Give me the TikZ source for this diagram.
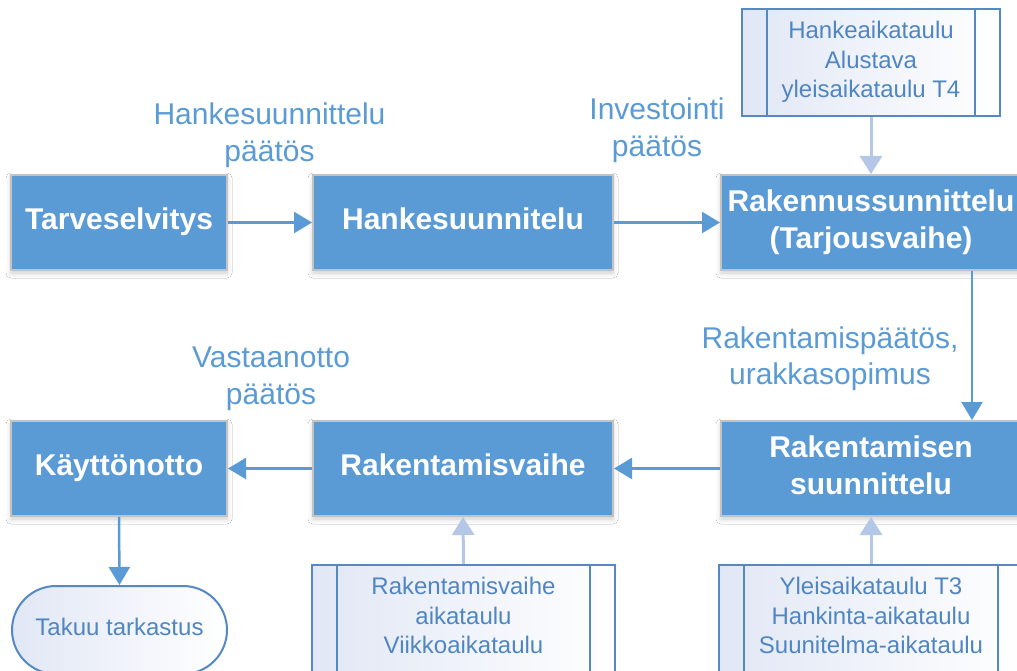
\documentclass[tikz,border=0pt]{standalone}
\usepackage{fontspec}
\setmainfont{Liberation Sans}
\usetikzlibrary{arrows.meta,shadows.blur}

\definecolor{procfill}{HTML}{5B9BD5}
\definecolor{procedge}{HTML}{C3C3C3}
\definecolor{labelblue}{HTML}{5B9BD5}
\definecolor{docedge}{HTML}{5589C4}
\definecolor{doctext}{HTML}{4F86C2}
\definecolor{docfill}{HTML}{E1E7F5}
\definecolor{feedarrow}{HTML}{B4C7E7}

% struts that keep the capitals centred in the boxes
\newcommand\boxstrut{\rule[-7pt]{0pt}{28.5pt}}
\newcommand\docstrut{\rule[-5.5pt]{0pt}{22.7pt}}

\tikzset{
  process/.style={rectangle, fill=procfill, draw=procedge, line width=2pt,
    text=white, font=\fontsize{30}{37}\selectfont\bfseries, align=center,
    minimum height=95pt, inner sep=0pt,
    execute at begin node=\boxstrut, execute at end node=\boxstrut,
    blur shadow={shadow xshift=0pt, shadow yshift=-3pt, shadow blur radius=5pt, shadow opacity=20}},
  decision/.style={text=labelblue, font=\fontsize{30}{36.5}\selectfont, align=center, inner sep=0pt},
  schedule/.style={rectangle, draw=docedge, line width=2pt, left color=docfill, right color=white,
    text=doctext, font=\fontsize{24}{29.5}\selectfont, align=center,
    minimum height=107pt, inner sep=0pt,
    execute at begin node=\docstrut, execute at end node=\docstrut},
  terminal/.style={rectangle, rounded corners=44pt, draw=docedge, line width=2pt,
    left color=docfill, right color=white, text=doctext, font=\fontsize{24}{29}\selectfont,
    minimum width=215pt, minimum height=88pt, inner sep=0pt,
    execute at begin node=\docstrut},
  flow/.style={draw=procfill, line width=2.5pt, -{Triangle[length=18pt,width=21pt]}},
  feed/.style={draw=feedarrow, line width=3pt, -{Triangle[length=18pt,width=22pt]}},
  bar/.style={draw=docedge, line width=2pt}
}

\begin{document}
\begin{tikzpicture}[x=1pt, y=-1pt]
  \clip (0,0) rectangle (1017,671);
  \fill[white] (0,0) rectangle (1017,671);

  % main process chain
  \node[process, minimum width=216pt] (tarve) at (119,222.5) {Tarveselvitys};
  \node[process, minimum width=300pt] (hanke) at (463,222.5) {Hankesuunnitelu};
  \node[process, minimum width=300pt] (rakennus) at (871,222.5) {Rakennussunnittelu\\(Tarjousvaihe)};
  \node[process, minimum width=300pt] (rsuunn) at (871,468.5) {Rakentamisen\\suunnittelu};
  \node[process, minimum width=300pt] (rvaihe) at (463,468.5) {Rakentamisvaihe};
  \node[process, minimum width=216pt] (kaytto) at (119,468.5) {Käyttönotto};

  \node[terminal] (takuu) at (119.5,630) {Takuu tarkastus};

  % decision labels
  \node[decision] (d1) at (269.5,135) {Hankesuunnittelu\\päätös};
  \node[decision] (d2) at (657,130) {Investointi\\päätös};
  \node[decision] (d3) at (830,358.5) {Rakentamispäätös,\\urakkasopimus};
  \node[decision] (d4) at (271,379) {Vastaanotto\\päätös};

  % schedule documents
  \node[schedule, minimum width=258pt] (s1) at (871,62.5) {Hankeaikataulu\\Alustava\\yleisaikataulu T4};
  \node[schedule, minimum width=303pt] (s2) at (463.5,618.5) {Rakentamisvaihe\\aikataulu\\Viikkoaikataulu};
  \node[schedule, minimum width=304pt] (s3) at (871,618.5) {Yleisaikataulu T3\\Hankinta-aikataulu\\Suunitelma-aikataulu};

  \foreach \s in {s1,s2,s3}{
    \draw[bar] ([xshift=26pt]\s.north west) -- ([xshift=26pt]\s.south west);
    \draw[bar] ([xshift=-26pt]\s.north east) -- ([xshift=-26pt]\s.south east);
  }

  % connectors
  \draw[flow] (tarve) -- (hanke);
  \draw[flow] (hanke) -- (rakennus);
  \draw[flow] ([xshift=101pt]rakennus.south) -- ([xshift=101pt]rsuunn.north);
  \draw[flow] (rsuunn) -- (rvaihe);
  \draw[flow] (rvaihe) -- (kaytto);
  \draw[flow] (kaytto.south) -- (takuu.north);

  \draw[feed] (s1.south) -- (rakennus.north);
  \draw[feed] (s2.north) -- (rvaihe.south);
  \draw[feed] (s3.north) -- (rsuunn.south);
\end{tikzpicture}
\end{document}
